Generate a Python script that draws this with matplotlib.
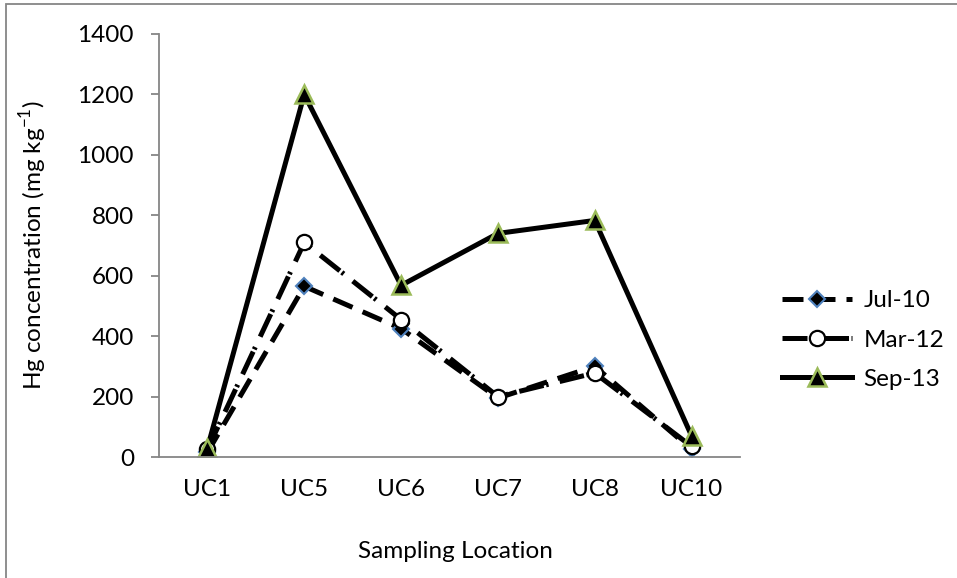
import matplotlib.pyplot as plt
from matplotlib.patches import Rectangle

plt.rcParams['font.family'] = ['Lato', 'DejaVu Sans']

# data
locations = ['UC1', 'UC5', 'UC6', 'UC7', 'UC8', 'UC10']
jul10 = [15, 565, 425, 195, 300, 25]
mar12 = [25, 710, 455, 200, 278, 35]
sep13 = [30, 1200, 568, 740, 783, 70]
yticks = [0, 200, 400, 600, 800, 1000, 1200, 1400]

W, H = 957, 578
fig = plt.figure(figsize=(W / 100, H / 100), dpi=100)
ax = fig.add_axes([159 / W, 1 - 457 / H, (740 - 159) / W, (457 - 34) / H])

x = range(len(locations))
grey = '#868686'
fs = 17.5

ax.plot(x, jul10, color='black', lw=3.6, dashes=(4.2, 2.2),
        marker='D', ms=8.5, mfc='black', mec='#4F81BD', mew=1.5, label='Jul-10')
ax.plot(x, mar12, color='black', lw=3.6, dashes=(5, 0.5, 0.5, 2.3),
        marker='o', ms=11, mfc='white', mec='black', mew=1.6, label='Mar-12')
ax.plot(x, sep13, color='black', lw=3.6,
        marker='^', ms=13, mfc='black', mec='#9BBB59', mew=1.8, label='Sep-13')

ax.set_xlim(-0.5, len(locations) - 0.5)
ax.set_ylim(0, 1400)
ax.set_xticks(list(x))
ax.set_xticklabels(locations)
ax.set_yticks(yticks)

for s in ['top', 'right']:
    ax.spines[s].set_visible(False)
for s in ['left', 'bottom']:
    ax.spines[s].set_color(grey)
    ax.spines[s].set_linewidth(1.3)

ax.tick_params(axis='y', direction='out', length=6, width=1.3, color=grey,
               labelsize=fs, pad=12)
ax.tick_params(axis='x', length=0, labelsize=fs, pad=16)

fig.text(455 / W, 1 - 552 / H, 'Sampling Location', fontsize=fs,
         ha='center', va='center')
fig.text(33 / W, 1 - 245 / H, 'Hg concentration (mg kg$^{\\mathregular{-1}}$)',
         fontsize=fs, rotation=90, ha='center', va='center')

ax.legend(loc='center left', bbox_to_anchor=(782 / W, 1 - 340 / H),
          bbox_transform=fig.transFigure, frameon=False, fontsize=fs,
          handlelength=2.9, handletextpad=0.45, labelspacing=0.75,
          borderpad=0, borderaxespad=0)

# chart-area border (cropped on right and bottom)
fig.patches.append(Rectangle((6 / W, -0.5), 2, 0.5 + 1 - 4 / H,
                             transform=fig.transFigure, fill=False,
                             edgecolor=grey, lw=1.3))

fig.savefig('out.png', dpi=100)
